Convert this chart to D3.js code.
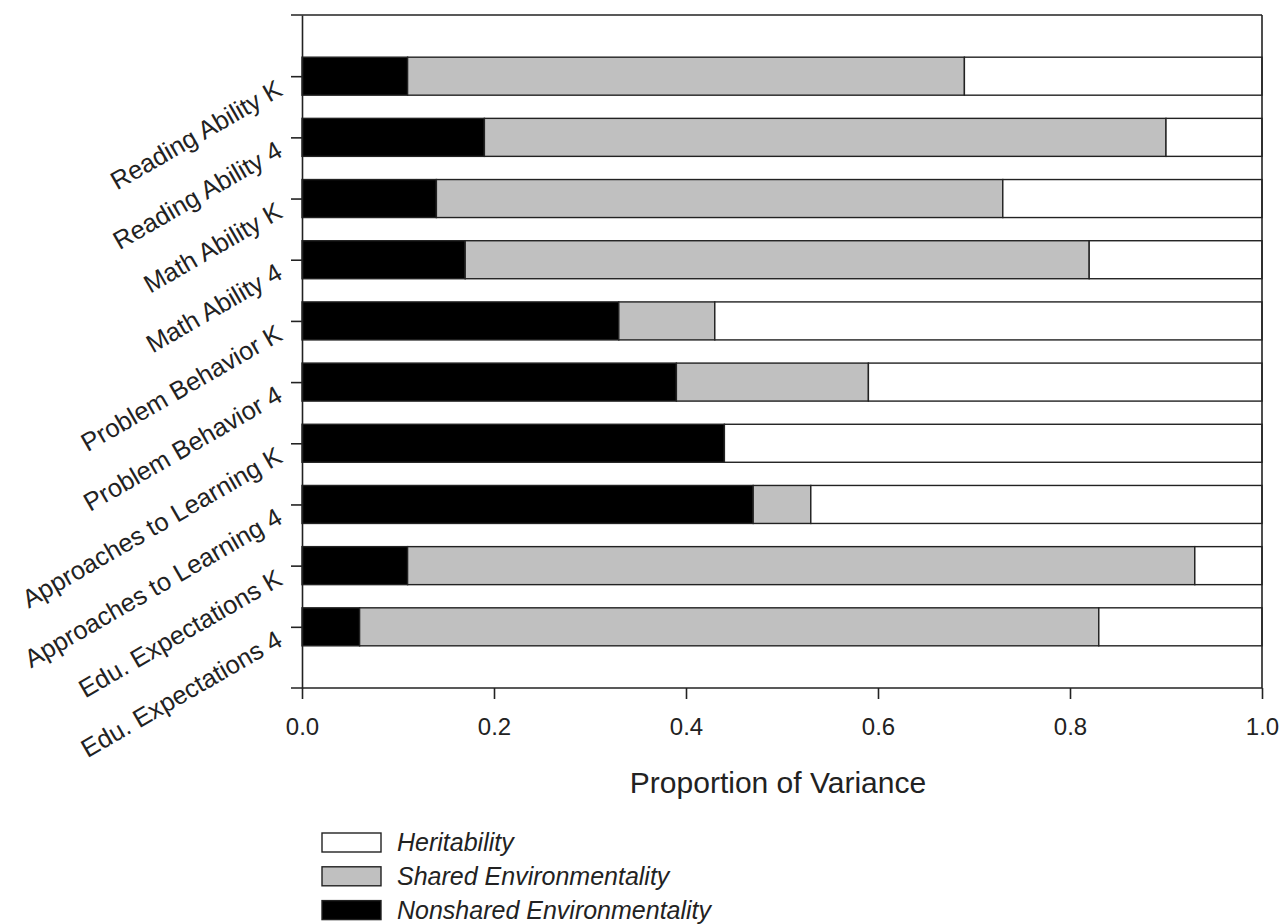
<!DOCTYPE html>
<html>
<head>
<meta charset="utf-8">
<script src="https://cdn.jsdelivr.net/npm/d3@7"></script>
<style>
  html, body { margin: 0; padding: 0; background: #ffffff; }
  svg { display: block; }
  text { font-family: Arial, "Liberation Sans", sans-serif; fill: #222; }
</style>
</head>
<body>
<svg id="chart" width="1285" height="924"></svg>
<script>
// ---- data ----
const categories = [
  "Reading Ability K", "Reading Ability 4", "Math Ability K", "Math Ability 4",
  "Problem Behavior K", "Problem Behavior 4", "Approaches to Learning K",
  "Approaches to Learning 4", "Edu. Expectations K", "Edu. Expectations 4"
];
const nonshared    = [0.11, 0.19, 0.14, 0.17, 0.33, 0.39, 0.44, 0.47, 0.11, 0.06];
const shared       = [0.58, 0.71, 0.59, 0.65, 0.10, 0.20, 0.00, 0.06, 0.82, 0.77];
const heritability = [0.31, 0.10, 0.27, 0.18, 0.57, 0.41, 0.56, 0.47, 0.07, 0.17];
const xTickValues = [0, 0.2, 0.4, 0.6, 0.8, 1.0];
const seriesKeys = ["nonshared", "shared", "heritability"];
const seriesLabels = {
  heritability: "Heritability",
  shared: "Shared Environmentality",
  nonshared: "Nonshared Environmentality"
};
const colors = { nonshared: "#000000", shared: "#c0c0c0", heritability: "#ffffff" };
const legendOrder = ["heritability", "shared", "nonshared"];
const xTitle = "Proportion of Variance";

(function draw() {
  // ---- layout ----
  const pLeft = 302, pRight = 1262, pTop = 15, pBottom = 688;
  const tickLen = 11;
  const barH = 38;
  const ink = "#222";

  const svg = d3.select("#chart");

  const x = d3.scaleLinear().domain([0, 1]).range([pLeft, pRight]);
  const y = d3.scalePoint().domain(categories).range([pTop, pBottom]).padding(1);

  const rows = categories.map((c, i) => ({
    cat: c, nonshared: nonshared[i], shared: shared[i], heritability: heritability[i]
  }));
  const stacked = d3.stack().keys(seriesKeys)(rows);

  // bars
  const gBars = svg.append("g");
  stacked.forEach(layer => {
    gBars.append("g")
      .selectAll("rect")
      .data(layer)
      .join("rect")
      .attr("x", d => x(d[0]))
      .attr("y", d => y(d.data.cat) - barH / 2)
      .attr("width", d => Math.max(0, x(d[1]) - x(d[0])))
      .attr("height", barH)
      .attr("fill", colors[layer.key])
      .attr("stroke", ink)
      .attr("stroke-width", 1.4);
  });

  // frame lines
  const frame = svg.append("g").attr("stroke", ink).attr("stroke-width", 1.6).attr("fill", "none");
  frame.append("line").attr("x1", pLeft - tickLen).attr("x2", pRight).attr("y1", pTop).attr("y2", pTop);
  frame.append("line").attr("x1", pLeft - tickLen).attr("x2", pRight).attr("y1", pBottom).attr("y2", pBottom);
  frame.append("line").attr("x1", pRight).attr("x2", pRight).attr("y1", pTop).attr("y2", pBottom);

  // x axis
  const xAxis = svg.append("g")
    .attr("transform", `translate(0,${pBottom})`)
    .call(d3.axisBottom(x).tickValues(xTickValues).tickFormat(d3.format(".1f"))
          .tickSize(tickLen).tickSizeOuter(0).tickPadding(19));
  xAxis.select(".domain").remove();
  xAxis.selectAll(".tick line").attr("stroke", ink).attr("stroke-width", 1.6);
  xAxis.selectAll(".tick text")
    .attr("font-size", 24)
    .attr("font-family", "Arial, 'Liberation Sans', sans-serif")
    .attr("fill", "#222");

  // y axis
  const yAxis = svg.append("g")
    .attr("transform", `translate(${pLeft},0)`)
    .call(d3.axisLeft(y).tickSize(tickLen).tickSizeOuter(0).tickFormat(""));
  yAxis.select(".domain").attr("stroke", ink).attr("stroke-width", 1.6);
  yAxis.selectAll(".tick line").attr("stroke", ink).attr("stroke-width", 1.6);

  // rotated category labels
  svg.append("g")
    .selectAll("text")
    .data(categories)
    .join("text")
    .attr("transform", d => `translate(284,${y(d) + 18}) rotate(-30)`)
    .attr("text-anchor", "end")
    .attr("font-size", 25.5)
    .text(d => d);

  // x title
  svg.append("text")
    .attr("x", 778)
    .attr("y", 793)
    .attr("text-anchor", "middle")
    .attr("font-size", 30)
    .text(xTitle);

  // legend
  const legend = svg.append("g");
  legendOrder.forEach((k, i) => {
    const ty = 833 + i * 33.8;
    legend.append("rect")
      .attr("x", 322).attr("y", ty)
      .attr("width", 59).attr("height", 19)
      .attr("fill", colors[k])
      .attr("stroke", ink).attr("stroke-width", 1.4);
    legend.append("text")
      .attr("x", 397).attr("y", ty + 18)
      .attr("font-size", 25)
      .attr("font-style", "italic")
      .text(seriesLabels[k]);
  });
})();
</script>
</body>
</html>
